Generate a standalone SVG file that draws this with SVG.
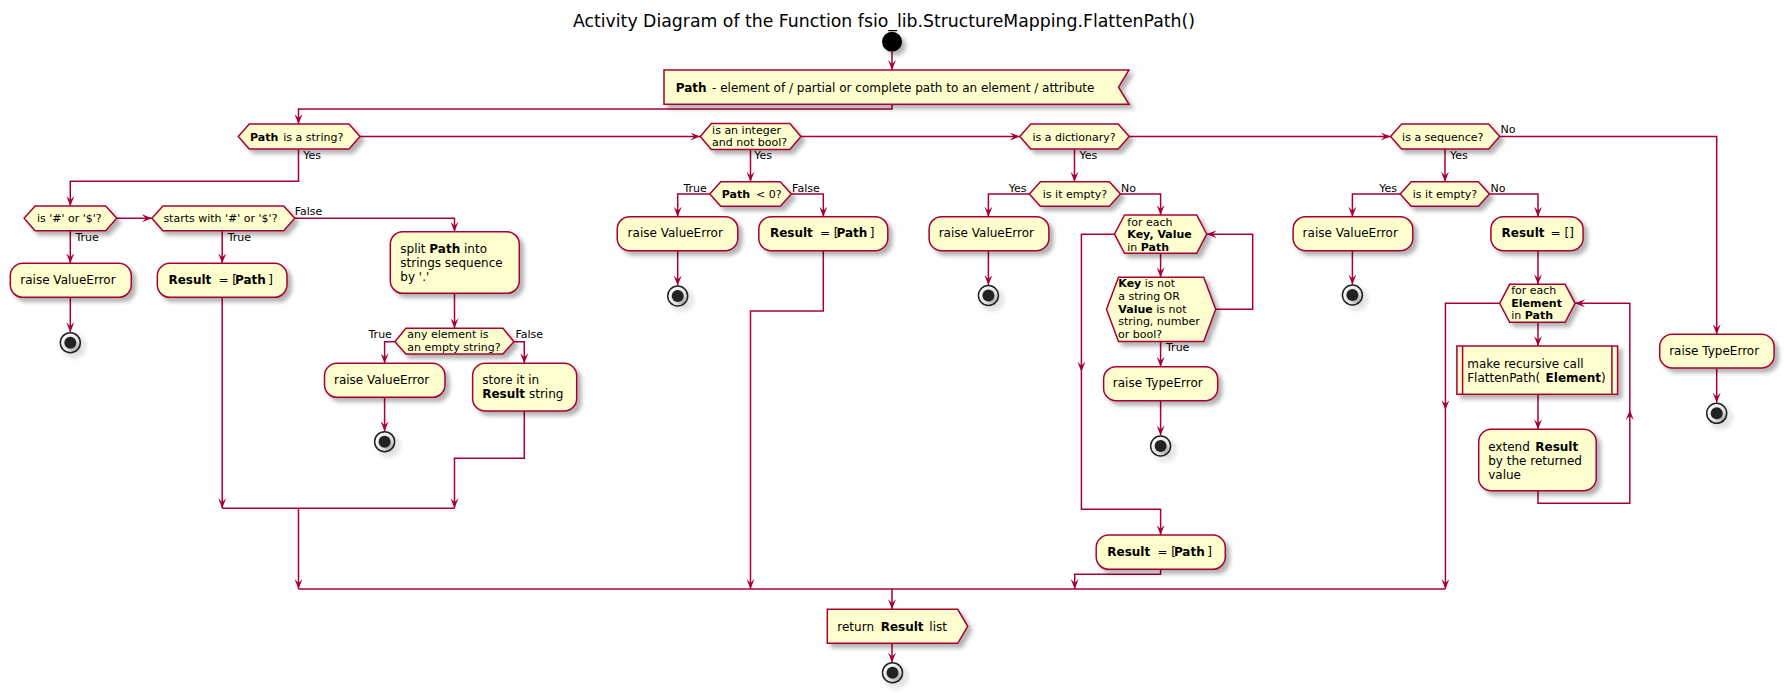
<svg xmlns="http://www.w3.org/2000/svg" width="1784" height="693" viewBox="0 0 1784 693">
<style>
text{font-family:"DejaVu Sans","Liberation Sans",sans-serif;fill:#000}
.t12{font-size:12px}
.t11{font-size:11px}
.b{font-weight:bold}
.box{fill:#FEFECE;stroke:#A80036;stroke-width:1.5;filter:url(#sh)}
.ln{fill:none;stroke:#A80036;stroke-width:1.5}
.ar{fill:none;stroke:#A80036;stroke-width:1.5;marker-end:url(#ah)}
.start{fill:#000;filter:url(#sh)}
.endo{fill:none;stroke:#222;stroke-width:1.5;filter:url(#sh)}
.endi{fill:#222;stroke:none;filter:url(#sh)}
</style>
<defs>
<filter id="sh" x="-30%" y="-30%" width="170%" height="180%">
<feDropShadow dx="4" dy="4" stdDeviation="2" flood-color="#000" flood-opacity="0.3"/>
</filter>
<marker id="ah" markerUnits="userSpaceOnUse" markerWidth="10" markerHeight="8" viewBox="0 0 10 8" refX="10" refY="4" orient="auto">
<path d="M0,0 L10,4 L0,8 L4,4 Z" fill="#A80036"/>
</marker>
</defs>

<text x="573" y="27" style="font-size:17.3px">Activity Diagram of the Function fsio_lib.StructureMapping.FlattenPath()</text>

<g id="connectors">
<path class="ar" d="M892,52 V70"/>
<path class="ar" d="M892,104.3 V109 H298.5 V124"/>
<path class="ar" d="M360,136.5 H700.3"/>
<path class="ar" d="M800.9,136.5 H1019.8"/>
<path class="ar" d="M1129.2,136.5 H1390.6"/>
<!-- string column -->
<path class="ar" d="M298.5,149 V181.3 H70.3 V206"/>
<path class="ar" d="M116.7,218.3 H151.9"/>
<path class="ar" d="M70.3,230.7 V263.3"/>
<path class="ar" d="M70.3,297.3 V332.3"/>
<path class="ar" d="M222.2,230.7 V263.3"/>
<path class="ar" d="M222.2,297.3 V508.3"/>
<path class="ar" d="M294.7,218.3 H454.5 V231.7"/>
<path class="ar" d="M454.5,293.3 V328.3"/>
<path class="ar" d="M394.9,341.7 H384.6 V363.3"/>
<path class="ar" d="M384.6,397.3 V431.2"/>
<path class="ar" d="M513.9,341.7 H524.3 V363.3"/>
<path class="ar" d="M524.3,411 V458.3 H454.5 V508.3"/>
<path class="ln" d="M222.2,508.3 H454.5"/>
<path class="ar" d="M298.5,508.3 V589"/>
<!-- integer column -->
<path class="ar" d="M750.5,149.5 V181.7"/>
<path class="ar" d="M709.8,194 H677.7 V216.7"/>
<path class="ar" d="M677.7,250.7 V285.5"/>
<path class="ar" d="M791.3,194 H823.3 V216.7"/>
<path class="ar" d="M823.3,250.7 V311 H750.5 V589"/>
<!-- dictionary column -->
<path class="ar" d="M1074.5,149 V181.7"/>
<path class="ar" d="M1029.4,194 H988.4 V216.7"/>
<path class="ar" d="M988.4,250.7 V285"/>
<path class="ar" d="M1120.4,194 H1160.6 V215"/>
<path class="ar" d="M1160.6,253.3 V277.3"/>
<path class="ar" d="M1160.6,341.5 V366.7"/>
<path class="ar" d="M1160.6,400.7 V435.5"/>
<path class="ar" d="M1215.7,309.2 H1252.7 V234.2 H1206.7"/>
<path class="ar" d="M1114.5,234.2 H1081.4 V371.7"/>
<path class="ar" d="M1081.4,371.7 V509.3 H1160.6 V535"/>
<path class="ar" d="M1160.6,569.3 V574.3 H1074.7 V589"/>
<!-- sequence column -->
<path class="ar" d="M1499.7,136.5 H1716.7 V334.3"/>
<path class="ar" d="M1716.7,368 V402.8"/>
<path class="ar" d="M1445,149 V181.7"/>
<path class="ar" d="M1400.2,194 H1352.4 V216.7"/>
<path class="ar" d="M1352.4,250.7 V284.5"/>
<path class="ar" d="M1489.4,194 H1538 V216.7"/>
<path class="ar" d="M1538,250.7 V284.3"/>
<path class="ar" d="M1538,322.3 V346"/>
<path class="ar" d="M1538,394.3 V429.3"/>
<path class="ar" d="M1538,490.7 V503.3 H1629.8 V410"/>
<path class="ar" d="M1629.8,410 V303.3 H1575.1"/>
<path class="ar" d="M1499.7,303.3 H1445.4 V410"/>
<path class="ar" d="M1445.4,410 V589"/>
<!-- main merge -->
<path class="ln" d="M298.5,589 H1445.4"/>
<path class="ar" d="M892,589 V609.3"/>
<path class="ar" d="M892,643.3 V662.5"/>
<!-- labels -->
<text class="t11" x="303.3" y="159">Yes</text>
<text class="t11" x="75.4" y="241">True</text>
<text class="t11" x="227.7" y="241">True</text>
<text class="t11" x="294.7" y="215">False</text>
<text class="t11" x="368.5" y="338.3">True</text>
<text class="t11" x="515.5" y="338.3">False</text>
<text class="t11" x="754.2" y="159">Yes</text>
<text class="t11" x="683.4" y="192">True</text>
<text class="t11" x="792.1" y="192">False</text>
<text class="t11" x="1079.5" y="159">Yes</text>
<text class="t11" x="1008.7" y="192">Yes</text>
<text class="t11" x="1121" y="192">No</text>
<text class="t11" x="1166" y="351">True</text>
<text class="t11" x="1500.5" y="133">No</text>
<text class="t11" x="1450" y="159">Yes</text>
<text class="t11" x="1379.2" y="192">Yes</text>
<text class="t11" x="1490.5" y="192">No</text>
</g>

<g id="start"><circle class="start" cx="892" cy="41.7" r="10"/></g>

<g id="input">
<polygon class="box" points="664,70 1129,70 1118.5,87.2 1129,104.3 664,104.3"/>
<text class="t12" y="91.7"><tspan class="b" x="675.8">Path</tspan><tspan x="712.1">- element of / partial or complete path to an element / attribute</tspan></text>
</g>

<g id="isString">
<polygon class="box" points="238.3,136.5 249.3,124 349,124 360,136.5 349,149 249.3,149"/>
<text class="t11" y="140.5"><tspan class="b" x="250">Path</tspan><tspan x="283.3">is a string?</tspan></text>
</g>

<g id="isHashDollar">
<polygon class="box" points="24.1,218.3 35.1,206 105.7,206 116.7,218.3 105.7,230.7 35.1,230.7"/>
<text class="t11" x="37" y="222.3">is '#' or '$'?</text>
</g>

<g id="startsWith">
<polygon class="box" points="151.9,218.3 162.9,206 283.7,206 294.7,218.3 283.7,230.7 162.9,230.7"/>
<text class="t11" x="163.4" y="222.3">starts with '#' or '$'?</text>
</g>

<g id="raise1">
<rect class="box" x="10.3" y="263.3" width="121" height="34" rx="12.5"/>
<text class="t12" x="20.3" y="284.3">raise ValueError</text>
</g>
<g id="end1"><circle class="endo" cx="70.3" cy="342.7" r="10"/><circle class="endi" cx="70.3" cy="342.7" r="6"/></g>

<g id="result1">
<rect class="box" x="157.3" y="263.3" width="129.7" height="34" rx="12.5"/>
<text class="t12" y="284.3"><tspan class="b" x="168.4">Result</tspan><tspan x="218.5">= [</tspan><tspan class="b" x="235">Path</tspan><tspan x="268.3">]</tspan></text>
</g>

<g id="split">
<rect class="box" x="390.3" y="231.7" width="129" height="61.6" rx="12.5"/>
<text class="t12" y="253.3"><tspan x="400.3">split </tspan><tspan class="b">Path</tspan><tspan> into</tspan></text>
<text class="t12" x="400.3" y="267.3">strings sequence</text>
<text class="t12" x="400.3" y="281.3">by '.'</text>
</g>

<g id="anyEmpty">
<polygon class="box" points="394.9,341.7 405.9,328.3 502.9,328.3 513.9,341.7 502.9,354 405.9,354"/>
<text class="t11" x="407.2" y="338.3">any element is</text>
<text class="t11" x="407.2" y="350.7">an empty string?</text>
</g>

<g id="raise2">
<rect class="box" x="324.5" y="363.3" width="120.5" height="34" rx="12.5"/>
<text class="t12" x="334" y="384.3">raise ValueError</text>
</g>
<g id="end2"><circle class="endo" cx="384.6" cy="441.7" r="10"/><circle class="endi" cx="384.6" cy="441.7" r="6"/></g>

<g id="store">
<rect class="box" x="472.6" y="363.3" width="104.1" height="47.7" rx="12.5"/>
<text class="t12" x="482.2" y="384.3">store it in</text>
<text class="t12" y="398.3"><tspan class="b" x="482.2">Result</tspan><tspan> string</tspan></text>
</g>

<g id="isInteger">
<polygon class="box" points="700.3,136.5 711.3,123.5 789.9,123.5 800.9,136.5 789.9,149.5 711.3,149.5"/>
<text class="t11" x="712.1" y="133.5">is an integer</text>
<text class="t11" x="712.1" y="146">and not bool?</text>
</g>

<g id="isNegative">
<polygon class="box" points="709.8,194 720.8,181.7 780.3,181.7 791.3,194 780.3,206.3 720.8,206.3"/>
<text class="t11" y="198.3"><tspan class="b" x="721.7">Path</tspan><tspan x="756">&lt; 0?</tspan></text>
</g>

<g id="raise3">
<rect class="box" x="617.2" y="216.7" width="120.6" height="34" rx="12.5"/>
<text class="t12" x="627.6" y="237.3">raise ValueError</text>
</g>
<g id="end3"><circle class="endo" cx="677.7" cy="296" r="10"/><circle class="endi" cx="677.7" cy="296" r="6"/></g>

<g id="result2">
<rect class="box" x="758.8" y="216.7" width="129" height="34" rx="12.5"/>
<text class="t12" y="237.3"><tspan class="b" x="769.9">Result</tspan><tspan x="820">= [</tspan><tspan class="b" x="836.5">Path</tspan><tspan x="869.8">]</tspan></text>
</g>

<g id="isDict">
<polygon class="box" points="1019.8,136.5 1030.8,124 1118.2,124 1129.2,136.5 1118.2,149 1030.8,149"/>
<text class="t11" x="1032.4" y="140.5">is a dictionary?</text>
</g>

<g id="dictEmpty">
<polygon class="box" points="1029.4,194 1040.4,181.7 1109.4,181.7 1120.4,194 1109.4,206.3 1040.4,206.3"/>
<text class="t11" x="1042.8" y="198.3">is it empty?</text>
</g>

<g id="raise4">
<rect class="box" x="929.1" y="216.7" width="119.8" height="34" rx="12.5"/>
<text class="t12" x="938.7" y="237.3">raise ValueError</text>
</g>
<g id="end4"><circle class="endo" cx="988.4" cy="295.5" r="10"/><circle class="endi" cx="988.4" cy="295.5" r="6"/></g>

<g id="forEachKV">
<polygon class="box" points="1114.5,234.2 1124.5,215 1196.7,215 1206.7,234.2 1196.7,253.3 1124.5,253.3"/>
<text class="t11" x="1127.3" y="226">for each</text>
<text class="t11 b" x="1127.3" y="238.3">Key, Value</text>
<text class="t11" y="250.7"><tspan x="1127.3">in </tspan><tspan class="b">Path</tspan></text>
</g>

<g id="kvCheck">
<polygon class="box" points="1106.5,309.2 1118.5,277.3 1203.7,277.3 1215.7,309.2 1203.7,341.5 1118.5,341.5"/>
<text class="t11" y="287.3"><tspan class="b" x="1118.3">Key</tspan><tspan> is not</tspan></text>
<text class="t11" x="1118.3" y="300">a string OR</text>
<text class="t11" y="312.7"><tspan class="b" x="1118.3">Value</tspan><tspan> is not</tspan></text>
<text class="t11" x="1118.3" y="325.4">string, number</text>
<text class="t11" x="1118" y="338">or bool?</text>
</g>

<g id="raise5">
<rect class="box" x="1103.6" y="366.7" width="114.1" height="34" rx="12.5"/>
<text class="t12" x="1112.8" y="387.3">raise TypeError</text>
</g>
<g id="end5"><circle class="endo" cx="1160.6" cy="446" r="10"/><circle class="endi" cx="1160.6" cy="446" r="6"/></g>

<g id="result3">
<rect class="box" x="1096.2" y="535" width="129.1" height="34.3" rx="12.5"/>
<text class="t12" y="556"><tspan class="b" x="1107.3">Result</tspan><tspan x="1157.4">= [</tspan><tspan class="b" x="1173.9">Path</tspan><tspan x="1207.2">]</tspan></text>
</g>

<g id="isSequence">
<polygon class="box" points="1390.6,136.5 1401.6,124 1488.7,124 1499.7,136.5 1488.7,149 1401.6,149"/>
<text class="t11" x="1402.1" y="140.5">is a sequence?</text>
</g>

<g id="seqEmpty">
<polygon class="box" points="1400.2,194 1411.2,181.7 1478.4,181.7 1489.4,194 1478.4,206.3 1411.2,206.3"/>
<text class="t11" x="1412.8" y="198.3">is it empty?</text>
</g>

<g id="raise6">
<rect class="box" x="1293.1" y="216.7" width="119.7" height="34" rx="12.5"/>
<text class="t12" x="1302.6" y="237.3">raise ValueError</text>
</g>
<g id="end6"><circle class="endo" cx="1352.4" cy="295" r="10"/><circle class="endi" cx="1352.4" cy="295" r="6"/></g>

<g id="resultEmpty">
<rect class="box" x="1490.9" y="216.7" width="92.2" height="34" rx="12.5"/>
<text class="t12" y="237.3"><tspan class="b" x="1501.6">Result</tspan><tspan x="1550.6">= []</tspan></text>
</g>

<g id="forEachElem">
<polygon class="box" points="1499.7,303.3 1509.7,284.3 1565.1,284.3 1575.1,303.3 1565.1,322.3 1509.7,322.3"/>
<text class="t11" x="1511.2" y="294">for each</text>
<text class="t11 b" x="1511.2" y="306.7">Element</text>
<text class="t11" y="319.3"><tspan x="1511.2">in </tspan><tspan class="b">Path</tspan></text>
</g>

<g id="recursive">
<rect class="box" x="1456.9" y="346" width="160.7" height="48.3"/>
<path class="ln" d="M1462.6,346 V394.3 M1611.9,346 V394.3"/>
<text class="t12" x="1467.2" y="367.7">make recursive call</text>
<text class="t12" y="381.7"><tspan x="1467.2">FlattenPath(</tspan><tspan class="b" x="1545.6">Element</tspan><tspan x="1601">)</tspan></text>
</g>

<g id="extend">
<rect class="box" x="1478.7" y="429.3" width="117.5" height="61.4" rx="12.5"/>
<text class="t12" y="450.7"><tspan x="1488.2">extend </tspan><tspan class="b" x="1535.3">Result</tspan></text>
<text class="t12" x="1488.2" y="464.7">by the returned</text>
<text class="t12" x="1488.2" y="478.7">value</text>
</g>

<g id="raise7">
<rect class="box" x="1659.7" y="334.3" width="114.4" height="33.7" rx="12.5"/>
<text class="t12" x="1669.2" y="355">raise TypeError</text>
</g>
<g id="end7"><circle class="endo" cx="1716.7" cy="413.3" r="10"/><circle class="endi" cx="1716.7" cy="413.3" r="6"/></g>

<g id="return">
<polygon class="box" points="827.3,609.3 957.7,609.3 967.7,626.3 957.7,643.3 827.3,643.3"/>
<text class="t12" y="630.7"><tspan x="837.3">return</tspan><tspan class="b" x="880.7">Result</tspan><tspan x="929.3">list</tspan></text>
</g>
<g id="endFinal"><circle class="endo" cx="892.5" cy="672.7" r="10"/><circle class="endi" cx="892.5" cy="672.7" r="6"/></g>
</svg>
